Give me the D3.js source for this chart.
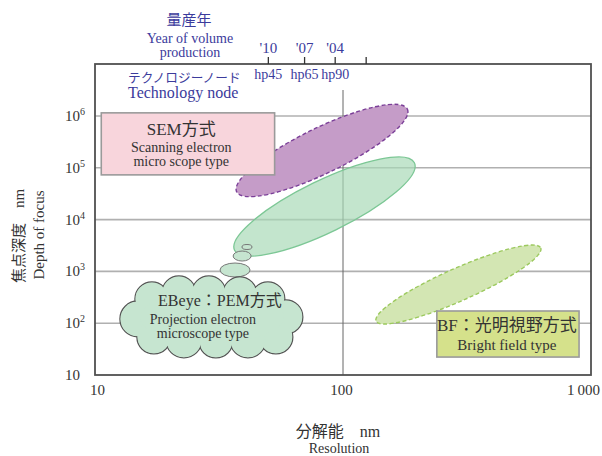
<!DOCTYPE html>
<html>
<head>
<meta charset="utf-8">
<script src="https://cdn.jsdelivr.net/npm/d3@7/dist/d3.min.js"></script>
<style>
  body { margin: 0; background: #fff; }
  svg { display: block; }
</style>
</head>
<body>
<svg id="chart" width="602" height="456"></svg>
<script>
// ---- Axis ticks ----
const resTicks = [10, 100, 1000];
const resTickLabels = ["10", "100", "1\u2009000"];
const dofTicks = [10, 1e2, 1e3, 1e4, 1e5, 1e6];
const dofExponents = ["", "2", "3", "4", "5", "6"];

// ---- Top axis: year of volume production / technology node (resolution nm) ----
const nodeRes = [50, 70, 93, 124];
const nodeYears = ["'10", "'07", "'04", ""];
const nodeNames = ["hp45", "hp65", "hp90", ""];
const refLineRes = 100;

// ---- Inspection regions: centre and major-axis tip as [resolution nm, depth of focus nm] ----
const regionNames = ["BF", "SEM", "PEM"];
const regionCenters = [[292, 558], [82.3, 2.16e5], [84.2, 1.79e4]];
const regionTips = [[627, 2840], [181.8, 1.36e6], [194, 1.25e5]];
const regionRatios = [0.18, 0.24, 0.26];

// ---- Label boxes: [[res, dof] top-left, [res, dof] bottom-right] ----
const semBox = [[10.6, 1.15e6], [53, 7.3e4]];
const bfBox = [[239, 172], [895, 22.2]];

// ---- PEM speech cloud anchor and its trail of bubbles ----
const cloudCenter = [29.6, 132];
const bubbleCenters = [[41, 2960], [39.2, 1980], [36.7, 1064]];

const serif = "'Liberation Serif','Noto Sans CJK JP',serif";
const blue = "#3b3b9c";
const ink = "#333";

const svg = d3.select("#chart");
const plotLeft = 95, plotRight = 591, plotTop = 64, plotBottom = 375;

const x = d3.scaleLog().domain([10, 1000]).range([plotLeft, plotRight]);
const y = d3.scaleLog().domain([10, 1e6]).range([plotBottom, 116]);

// Horizontal gridlines
svg.append("g").selectAll("line")
  .data(dofTicks.slice(1))
  .join("line")
  .attr("x1", plotLeft).attr("x2", plotRight)
  .attr("y1", d => y(d)).attr("y2", d => y(d))
  .attr("stroke", "#b0b0b0").attr("stroke-width", 1.6);

// Reference line at 100 nm
svg.append("line")
  .attr("x1", x(refLineRes)).attr("x2", x(refLineRes))
  .attr("y1", 90).attr("y2", plotBottom)
  .attr("stroke", "#666").attr("stroke-width", 1);

// Regions as rotated ellipses
function geom(c, t, r) {
  const cx = x(c[0]), cy = y(c[1]), tx = x(t[0]), ty = y(t[1]);
  const a = Math.hypot(tx - cx, ty - cy);
  return { cx, cy, a, b: a * r, ang: Math.atan2(ty - cy, tx - cx) * 180 / Math.PI };
}
const regionStyle = {
  BF:  { fill: "#d3e6b3", op: 1,    stroke: "#9cc95e", dash: "4,2.5", sw: 1.4 },
  SEM: { fill: "#c59cc8", op: 1,    stroke: "#7b3f98", dash: "4,2.5", sw: 1.4 },
  PEM: { fill: "#a6d8b6", op: 0.68, stroke: "#7cc795", dash: null,    sw: 1.3 }
};
regionNames.forEach((n, i) => {
  const g = geom(regionCenters[i], regionTips[i], regionRatios[i]);
  const s = regionStyle[n];
  svg.append("ellipse")
    .attr("transform", `translate(${g.cx},${g.cy}) rotate(${g.ang})`)
    .attr("rx", g.a).attr("ry", g.b)
    .attr("fill", s.fill).attr("fill-opacity", s.op)
    .attr("stroke", s.stroke).attr("stroke-width", s.sw)
    .attr("stroke-dasharray", s.dash);
});

// Bubble trail leading to the cloud
const bubbleSizes = [[5, 2.5], [9, 5], [15, 7]];
svg.append("g").selectAll("ellipse")
  .data(bubbleCenters)
  .join("ellipse")
  .attr("cx", d => x(d[0])).attr("cy", d => y(d[1]))
  .attr("rx", (d, i) => bubbleSizes[i][0]).attr("ry", (d, i) => bubbleSizes[i][1])
  .attr("fill", "#c6e5d0").attr("stroke", "#777").attr("stroke-width", 1);

// Cloud: outlined circles, then an unstroked fill layer to leave only the outer edge
const bumps = [
  [-74, 2, 18], [-60, -18, 17], [-33, -24, 17], [-3, -24, 17], [28, -23, 17],
  [56, -18, 17], [74, 0, 17], [64, 20, 17], [36, 23, 18], [4, 24, 17],
  [-28, 23, 18], [-58, 20, 17]
];
const cloud = svg.append("g")
  .attr("transform", `translate(${x(cloudCenter[0])},${y(cloudCenter[1])})`);
cloud.selectAll("circle.o").data(bumps).join("circle")
  .attr("cx", d => d[0]).attr("cy", d => d[1]).attr("r", d => d[2])
  .attr("fill", "#c6e5d0").attr("stroke", "#555").attr("stroke-width", 1.2);
cloud.append("g").selectAll("circle").data(bumps).join("circle")
  .attr("cx", d => d[0]).attr("cy", d => d[1]).attr("r", d => d[2] - 0.8)
  .attr("fill", "#c6e5d0");
cloud.append("ellipse").attr("rx", 72).attr("ry", 26).attr("fill", "#c6e5d0");

cloud.append("text").attr("x", 8).attr("y", -10.5)
  .attr("text-anchor", "middle").attr("font-family", serif).attr("font-size", 16)
  .attr("fill", ink).text("EBeye：PEM方式");
cloud.append("text").attr("x", -9).attr("y", 7.5)
  .attr("text-anchor", "middle").attr("font-family", serif).attr("font-size", 14)
  .attr("fill", ink).text("Projection electron");
cloud.append("text").attr("x", -9).attr("y", 21.5)
  .attr("text-anchor", "middle").attr("font-family", serif).attr("font-size", 14)
  .attr("fill", ink).text("microscope type");

// Label boxes
function box(b, fill) {
  const x0 = x(b[0][0]), y0 = y(b[0][1]), x1 = x(b[1][0]), y1 = y(b[1][1]);
  svg.append("rect").attr("x", x0).attr("y", y0)
    .attr("width", x1 - x0).attr("height", y1 - y0)
    .attr("fill", fill).attr("stroke", "#9a9a9a").attr("stroke-width", 1.6);
  return { x0, y0, x1, y1 };
}
const sb = box(semBox, "#f8d5dc");
svg.append("text").attr("x", sb.x0 + 80).attr("y", sb.y0 + 22.5)
  .attr("text-anchor", "middle").attr("font-family", serif).attr("font-size", 17)
  .attr("fill", ink).text("SEM方式");
svg.append("text").attr("x", sb.x0 + 80).attr("y", sb.y0 + 39.5)
  .attr("text-anchor", "middle").attr("font-family", serif).attr("font-size", 14)
  .attr("fill", ink).text("Scanning electron");
svg.append("text").attr("x", sb.x0 + 80).attr("y", sb.y0 + 53.5)
  .attr("text-anchor", "middle").attr("font-family", serif).attr("font-size", 14)
  .attr("fill", ink).text("micro scope type");

const bb = box(bfBox, "#d5e18b");
svg.append("text").attr("x", bb.x0 + 70).attr("y", bb.y0 + 20)
  .attr("text-anchor", "middle").attr("font-family", serif).attr("font-size", 17)
  .attr("fill", ink).text("BF：光明視野方式");
svg.append("text").attr("x", bb.x0 + 70).attr("y", bb.y0 + 39)
  .attr("text-anchor", "middle").attr("font-family", serif).attr("font-size", 15)
  .attr("fill", ink).text("Bright field type");

// Frame
svg.append("rect").attr("x", plotLeft).attr("y", plotTop)
  .attr("width", plotRight - plotLeft).attr("height", plotBottom - plotTop)
  .attr("fill", "none").attr("stroke", "#505050").attr("stroke-width", 1.8);

// Top axis ticks
svg.append("g").selectAll("line")
  .data(nodeRes).join("line")
  .attr("x1", d => x(d)).attr("x2", d => x(d))
  .attr("y1", plotTop - 7).attr("y2", plotTop)
  .attr("stroke", "#333").attr("stroke-width", 1.3);
svg.append("g").selectAll("text")
  .data(nodeRes).join("text")
  .attr("x", d => x(d)).attr("y", 53)
  .attr("text-anchor", "middle").attr("font-family", serif).attr("font-size", 15)
  .attr("fill", blue).text((d, i) => nodeYears[i]);
svg.append("g").selectAll("text")
  .data(nodeRes).join("text")
  .attr("x", d => x(d)).attr("y", 79)
  .attr("text-anchor", "middle").attr("font-family", serif).attr("font-size", 14)
  .attr("fill", blue).text((d, i) => nodeNames[i]);

// Top axis titles
svg.append("text").attr("x", 189).attr("y", 25)
  .attr("text-anchor", "middle").attr("font-family", serif).attr("font-size", 15)
  .attr("fill", blue).text("量産年");
svg.append("text").attr("x", 190).attr("y", 43)
  .attr("text-anchor", "middle").attr("font-family", serif).attr("font-size", 14)
  .attr("fill", blue).text("Year of volume");
svg.append("text").attr("x", 190).attr("y", 57)
  .attr("text-anchor", "middle").attr("font-family", serif).attr("font-size", 14)
  .attr("fill", blue).text("production");
svg.append("text").attr("x", 128).attr("y", 82)
  .attr("font-family", serif).attr("font-size", 12.7)
  .attr("fill", blue).text("テクノロジーノード");
svg.append("text").attr("x", 128).attr("y", 98)
  .attr("font-family", serif).attr("font-size", 16)
  .attr("fill", blue).text("Technology node");

// Bottom axis labels
const xAxis = d3.axisBottom(x).tickValues(resTicks).tickSize(0).tickPadding(0)
  .tickFormat((d, i) => resTickLabels[i]);
const gx = svg.append("g").attr("transform", `translate(0,${plotBottom})`).call(xAxis);
gx.select(".domain").remove();
gx.selectAll("text").attr("dy", null).attr("y", 20)
  .attr("font-family", serif).attr("font-size", 15).attr("fill", ink);
gx.selectAll(".tick").filter(d => d === 10).select("text").attr("x", 2);
gx.selectAll(".tick").filter(d => d === 100).select("text").attr("x", -2);
gx.selectAll(".tick").filter(d => d === 1000).select("text").attr("x", -8);

// Left axis labels with superscript exponents
const gy = svg.append("g").selectAll("text")
  .data(dofTicks).join("text")
  .attr("x", 65).attr("y", d => y(d) + 5)
  .attr("font-family", serif).attr("font-size", 15).attr("fill", ink);
gy.append("tspan").text("10");
gy.append("tspan").attr("dy", -6).attr("font-size", 10)
  .text((d, i) => dofExponents[i]);

// Axis titles
svg.append("text").attr("transform", "translate(24,236) rotate(-90)")
  .attr("text-anchor", "middle").attr("font-family", serif).attr("font-size", 15)
  .attr("fill", ink).text("焦点深度　nm");
svg.append("text").attr("transform", "translate(44,235) rotate(-90)")
  .attr("text-anchor", "middle").attr("font-family", serif).attr("font-size", 15)
  .attr("fill", ink).text("Depth of focus");
svg.append("text").attr("x", 338).attr("y", 437)
  .attr("text-anchor", "middle").attr("font-family", serif).attr("font-size", 16)
  .attr("fill", ink).text("分解能　nm");
svg.append("text").attr("x", 339).attr("y", 453)
  .attr("text-anchor", "middle").attr("font-family", serif).attr("font-size", 14)
  .attr("fill", ink).text("Resolution");
</script>
</body>
</html>
